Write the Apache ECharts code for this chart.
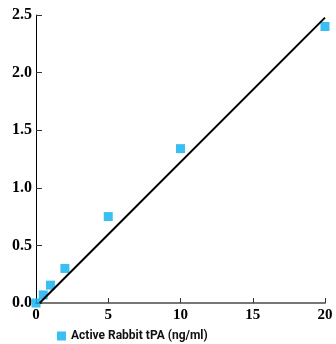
<!DOCTYPE html>
<html>
<head>
<meta charset="utf-8">
<script src="https://cdn.jsdelivr.net/npm/echarts@6/dist/echarts.min.js"></script>
<style>html,body{margin:0;padding:0;background:#fff;}#c{width:336px;height:344px;}</style>
</head>
<body>
<div id="c"></div>
<script>
var seriesName = 'Active Rabbit tPA (ng/ml)';
var concentrations = [0, 0.5, 1, 2, 5, 10, 20];
var absorbance = [0.0, 0.07, 0.155, 0.30, 0.75, 1.34, 2.40];
var fitX = [0.25, 20];
var fitY = [0, 2.477];
var yTicks = [0, 0.5, 1.0, 1.5, 2.0, 2.5];
var xTicks = [0, 5, 10, 15, 20];

var pts = concentrations.map(function (c, i) { return [c, absorbance[i]]; });
var fit = fitX.map(function (x, i) { return [x, fitY[i]]; });
var serifFont = 'Liberation Serif, Times New Roman, Times, DejaVu Serif, serif';

var chart = echarts.init(document.getElementById('c'));
chart.setOption({
  animation: false,
  backgroundColor: '#fff',
  grid: { left: 36, right: 11, top: 15, bottom: 41, containLabel: false },
  legend: {
    data: [seriesName],
    left: 52, top: 325,
    itemWidth: 9, itemHeight: 9, itemGap: 4,
    icon: 'rect',
    textStyle: { fontFamily: 'Roboto, sans-serif', fontWeight: 'bold', fontSize: 12, color: '#111' }
  },
  xAxis: {
    type: 'value', min: xTicks[0], max: xTicks[xTicks.length - 1], interval: 5,
    splitLine: { show: false },
    axisLine: { lineStyle: { color: '#777', width: 2 } },
    axisTick: { inside: true, length: 5, lineStyle: { color: '#333', width: 1 } },
    axisLabel: { margin: 5, color: '#000', fontFamily: serifFont, fontWeight: 'bold', fontSize: 15 }
  },
  yAxis: {
    type: 'value', min: yTicks[0], max: yTicks[yTicks.length - 1], interval: 0.5,
    splitLine: { show: false },
    axisLine: { show: true, lineStyle: { color: '#000', width: 1 } },
    axisTick: { show: true, inside: true, length: 6, lineStyle: { color: '#333', width: 1 } },
    axisLabel: { margin: 4, color: '#000', fontFamily: serifFont, fontWeight: 'bold', fontSize: 16,
      formatter: function (v) { return v.toFixed(1); } }
  },
  series: [
    {
      name: seriesName, type: 'scatter', data: pts, symbol: 'rect', symbolSize: 9,
      itemStyle: { color: '#0aaeec' }, clip: false, z: 2
    },
    {
      name: 'fit', type: 'line', data: fit, symbol: 'none', clip: false,
      lineStyle: { color: '#000', width: 2 }, z: 3
    }
  ]
});
</script>
</body>
</html>
